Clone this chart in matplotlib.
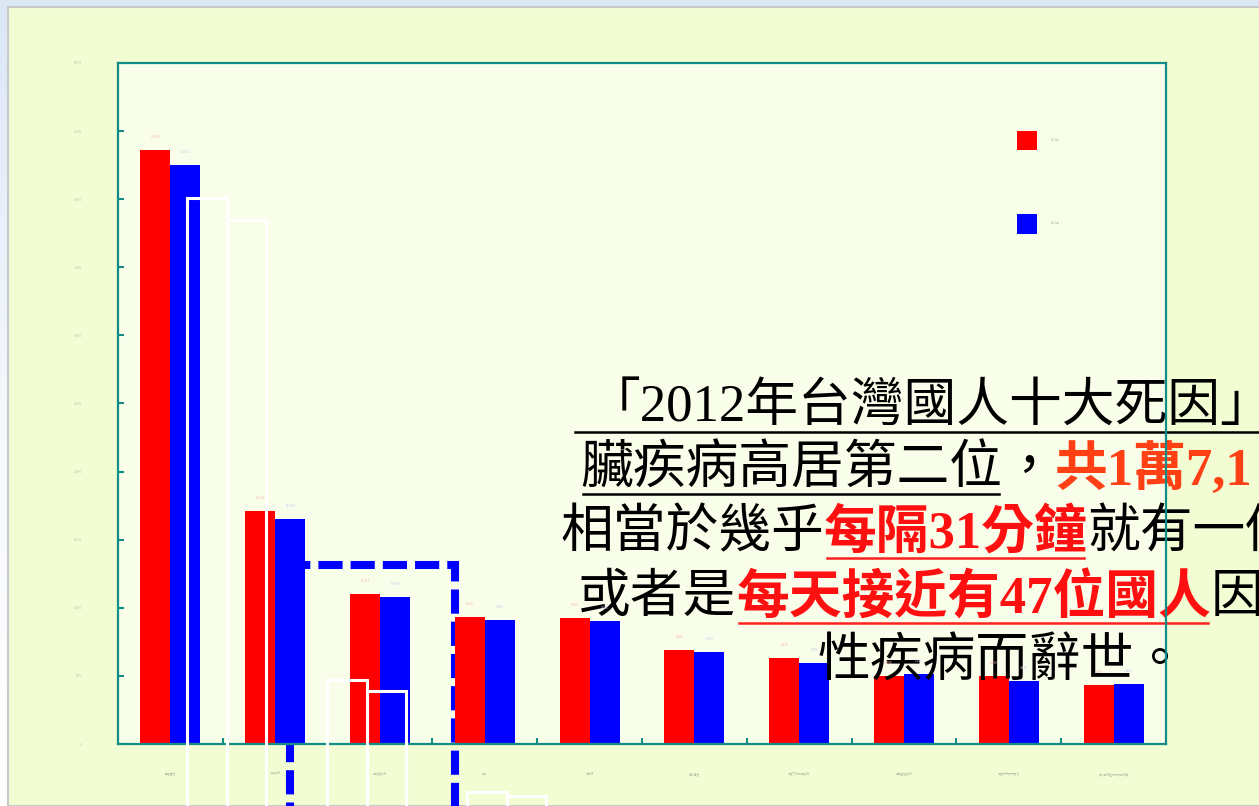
import matplotlib
matplotlib.use('Agg')
import matplotlib.pyplot as plt
import matplotlib.transforms as mtransforms
from matplotlib.patches import Rectangle
from matplotlib.lines import Line2D
from matplotlib.colors import LinearSegmentedColormap
import numpy as np

# ---------------- data ----------------
categories = ['惡性腫瘤', '心臟疾病', '腦血管疾病', '肺炎', '糖尿病',
              '事故傷害', '慢性下呼吸道疾病', '高血壓性疾病',
              '慢性肝病及肝硬化', '腎炎腎病症候群及腎病變']
deaths_2012 = [43610, 17110, 11010, 9330, 9250, 6900, 6310, 4990, 4990, 4330]
deaths_2011 = [42510, 16520, 10790, 9100, 9030, 6760, 5950, 5140, 4630, 4400]
series_labels = ['2012年', '2011年']
y_ticks = [0, 5000, 10000, 15000, 20000, 25000, 30000, 35000, 40000, 45000, 50000]
y_tick_labels = ['0', '5000', '10000', '15000', '20000', '25000',
                 '30000', '35000', '40000', '45000', '50000']
highlight_top = 13150

# faint white-outlined bars of an overlapped second chart
ghost_left = [8.02, 3.20, 2.08]
ghost_right = [7.80, 3.09, 2.04]

# caption lines: (text, colour, weight, underline colour or None)
line1 = [('「2012年台灣國人十大死因」', '#000000', 'normal', '#000000')]
line2 = [('臟疾病高居第二位', '#000000', 'normal', '#000000'),
         ('，', '#000000', 'normal', None),
         ('共1萬7,1', '#FF4015', 'bold', None)]
line3 = [('相當於幾乎', '#000000', 'normal', None),
         ('每隔31分鐘', '#FF1010', 'bold', '#FF2020'),
         ('就有一個', '#000000', 'normal', None)]
line4 = [('或者是', '#000000', 'normal', None),
         ('每天接近有47位國人', '#FF1010', 'bold', '#FF2020'),
         ('因', '#000000', 'normal', None)]
line5 = [('性疾病而辭世。', '#000000', 'normal', None)]

# ---------------- figure ----------------
W, H = 1259, 806
fig = plt.figure(figsize=(W / 100, H / 100), dpi=100)
fig.patch.set_facecolor('#FFFFFF')

# background gradient (slide window)
bg = fig.add_axes([0, 0, 1, 1], zorder=-3)
grad = np.linspace(0, 1, 256).reshape(-1, 1)
cmap_bg = LinearSegmentedColormap.from_list('bg', ['#DCE7F6', '#F4F8FD', '#FFFFFF'])
bg.imshow(grad, aspect='auto', cmap=cmap_bg, extent=[0, 1, 1, 0])
bg.set_xlim(0, 1); bg.set_ylim(1, 0)
bg.axis('off')

px = mtransforms.Affine2D().scale(1 / W, 1 / H) + fig.transFigure

panel = Rectangle((8, 0), W, H - 7, transform=px, facecolor='#F3FDD4',
                  edgecolor='#C9C9C9', lw=1.5, zorder=-1)
fig.patches.append(panel)

teal = '#128C86'
ax = fig.add_axes([118 / W, (H - 744) / H, (1166 - 118) / W, (744 - 63) / H], zorder=0)
ax.set_facecolor('#F9FEEA')

x = np.arange(len(categories))
w = 0.286
b1 = ax.bar(x - w / 2, deaths_2012, w, color='#FF0000', edgecolor='none', zorder=2)
b2 = ax.bar(x + w / 2, deaths_2011, w, color='#0000FF', edgecolor='none', zorder=2)
ax.bar_label(b1, fmt='{:,.0f}', fontsize=2, color='#F2B4AC', padding=8)
ax.bar_label(b2, fmt='{:,.0f}', fontsize=2, color='#C6C8F0', padding=8)

ax.set_xlim(-0.5, len(categories) - 0.5)
ax.set_ylim(0, 50000)

ax.set_yticks(y_ticks)
ax.set_yticklabels(y_tick_labels)
ax.tick_params(axis='y', direction='in', length=4.5, width=1.5, color=teal,
               pad=26, labelsize=2, labelcolor='#B5C8A4')
ax.set_xticks(x[:-1] + 0.5)
ax.set_xticklabels([])
ax.set_xticks(x, minor=True)
ax.set_xticklabels(categories, minor=True, fontsize=2, color='#B0BCA0',
                   family=['Noto Sans CJK TC'])
ax.tick_params(axis='x', which='major', direction='in', length=4.5, width=1.5, color=teal)
ax.tick_params(axis='x', which='minor', length=0, pad=20)
for s in ax.spines.values():
    s.set_color(teal)
    s.set_linewidth(1.6)
    s.set_zorder(2.5)

# dashed highlight box
hl = Rectangle((1 + w / 2, -30000), (3 - w) - (1 + w / 2), highlight_top + 30000,
               fill=False, edgecolor='#0000FF', lw=5.8, linestyle=(0, (3.0, 1.0)),
               joinstyle='miter', clip_on=False, zorder=1.5)
ax.add_patch(hl)

# legend
leg = ax.legend([b1, b2], series_labels, handlelength=7.2, handleheight=10.4,
                labelspacing=23, handletextpad=5, frameon=False, loc='upper left',
                bbox_to_anchor=((1017 - 118) / 1048, (744 - 131) / 681),
                borderaxespad=0, borderpad=0, prop={'family': ['Noto Sans CJK TC'], 'size': 2})
for t in leg.get_texts():
    t.set_color('#B5C0A8')

# ghost chart
gax = fig.add_axes([0, 0, 1, 1], zorder=1)
gax.set_xlim(-226.5 / 140, (W - 226.5) / 140)
gax.set_ylim((1000 - H) / 100, 10)
gax.axis('off')
gax.patch.set_alpha(0)
gx = np.arange(len(ghost_left))
gw = 39.5 / 140
gax.bar(gx - gw / 2, ghost_left, gw, facecolor='none', edgecolor='#FFFFFF', lw=2.2)
gax.bar(gx + gw / 2, ghost_right, gw, facecolor='none', edgecolor='#FFFFFF', lw=2.2)

# caption text
FS = 38
TEXT_FAMILY = ['Liberation Serif', 'Noto Sans CJK TC']
renderer = fig.canvas.get_renderer()


def draw_line(segments, x0, y_center, y_ul, ul_start=None, ul_to_edge=False):
    xx = x0
    for text, color, weight, ulc in segments:
        t = ax.text(xx, H - y_center, text, transform=px, fontsize=FS, color=color,
                    fontweight=weight, family=TEXT_FAMILY, ha='left', va='center',
                    clip_on=False, zorder=2.4)
        bb = t.get_window_extent(renderer=renderer)
        x1 = xx + bb.width * 100 / fig.dpi
        if ulc is not None:
            xs = ul_start if ul_start is not None else xx + 3
            xe = W + 5 if ul_to_edge else x1 - 3
            ax.add_line(Line2D([xs, xe], [H - y_ul, H - y_ul], transform=px,
                               color=ulc, lw=1.8, clip_on=False, zorder=2.4))
        xx = x1


draw_line(line1, 588, 407, 432, ul_start=575, ul_to_edge=True)
draw_line(line2, 580, 470, 494)
draw_line(line3, 560, 534, 558)
draw_line(line4, 578, 599, 623)
draw_line(line5, 818, 662, 687)

fig.savefig('out.png', dpi=100)
